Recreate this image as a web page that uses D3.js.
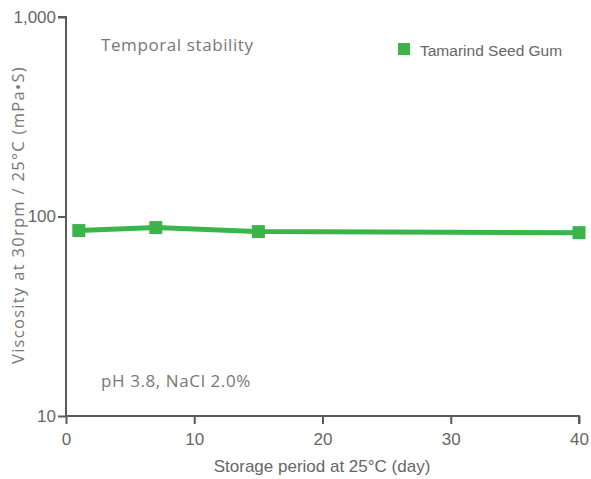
<!DOCTYPE html>
<html>
<head>
<meta charset="utf-8">
<script src="https://cdn.jsdelivr.net/npm/d3@7"></script>
<style>
  html, body { margin: 0; padding: 0; background: #fff; }
  svg { display: block; }
</style>
</head>
<body>
<svg id="chart" width="591" height="479"></svg>
<script>
// Storage days and measured viscosity (mPa·S) of tamarind seed gum
const days = [1, 7, 15, 40];
const viscosity = [85, 88, 84, 83];
const xTicks = [0, 10, 20, 30, 40];
const yTicks = [10, 100, 1000];
const seriesName = "Tamarind Seed Gum";

const svg = d3.select("#chart");
const margin = { left: 66, right: 12, top: 17, bottom: 63 };
const green = "#3bb54a";
const axisColor = "#5a5a5a";
const textColor = "#666";
const sans = "'Liberation Sans', Arial, sans-serif";
const round = "'Open Sans', sans-serif";

const x = d3.scaleLinear().domain([0, 40]).range([margin.left, 579]);
const y = d3.scaleLog().domain([10, 1000]).range([416, margin.top]);

// Y axis
const yAxis = svg.append("g")
  .attr("transform", `translate(${margin.left},0)`)
  .call(d3.axisLeft(y).tickValues(yTicks).tickFormat(d3.format(",")).tickSize(8).tickPadding(2));
yAxis.select(".domain").attr("stroke", axisColor).attr("stroke-width", 2).attr("d", `M-8,${y(1000)}H0V${y(10)}`);
yAxis.selectAll(".tick line").attr("stroke", axisColor).attr("stroke-width", 2);
yAxis.selectAll(".tick text").attr("fill", textColor)
  .style("font-family", sans).style("font-size", "17px");

// X axis
const xAxis = svg.append("g")
  .attr("transform", `translate(0,${y(10)})`)
  .call(d3.axisBottom(x).tickValues(xTicks).tickSize(8).tickPadding(9));
xAxis.select(".domain").attr("stroke", axisColor).attr("stroke-width", 2).attr("d", `M${x(0)},0H${x(40)}V8`);
xAxis.selectAll(".tick line").attr("stroke", axisColor).attr("stroke-width", 2);
xAxis.selectAll(".tick text").attr("fill", textColor)
  .style("font-family", sans).style("font-size", "17px");

// Axis titles
svg.append("text")
  .attr("x", 322).attr("y", 472)
  .attr("text-anchor", "middle")
  .attr("fill", textColor)
  .style("font-family", sans).style("font-size", "17px")
  .text("Storage period at 25°C (day)");

svg.append("text")
  .attr("transform", `translate(24,215) rotate(-90)`)
  .attr("text-anchor", "middle")
  .attr("fill", "#777")
  .style("font-family", round).style("font-size", "16.5px").style("letter-spacing", "1.3px")
  .text("Viscosity at 30rpm / 25°C (mPa•S)");

// Annotations
svg.append("text")
  .attr("x", 101).attr("y", 51)
  .attr("fill", "#777")
  .style("font-family", round).style("font-size", "17px").style("letter-spacing", "0.6px")
  .text("Temporal stability");

svg.append("text")
  .attr("x", 101).attr("y", 387)
  .attr("fill", "#777")
  .style("font-family", round).style("font-size", "17px").style("letter-spacing", "0.6px")
  .text("pH 3.8, NaCl 2.0%");

// Series line and markers
const pts = days.map((d, i) => [d, viscosity[i]]);
svg.append("path")
  .datum(pts)
  .attr("fill", "none")
  .attr("stroke", green)
  .attr("stroke-width", 5)
  .attr("d", d3.line().x(d => x(d[0])).y(d => y(d[1])));

const ms = 13;
svg.selectAll("rect.marker")
  .data(pts)
  .join("rect")
  .attr("class", "marker")
  .attr("x", d => x(d[0]) - ms / 2)
  .attr("y", d => y(d[1]) - ms / 2)
  .attr("width", ms).attr("height", ms)
  .attr("fill", green);

// Legend
svg.append("rect")
  .attr("x", 398).attr("y", 43).attr("width", 12).attr("height", 12)
  .attr("fill", green);
svg.append("text")
  .attr("x", 420).attr("y", 56)
  .attr("fill", textColor)
  .style("font-family", sans).style("font-size", "15.5px")
  .text(seriesName);
</script>
</body>
</html>
